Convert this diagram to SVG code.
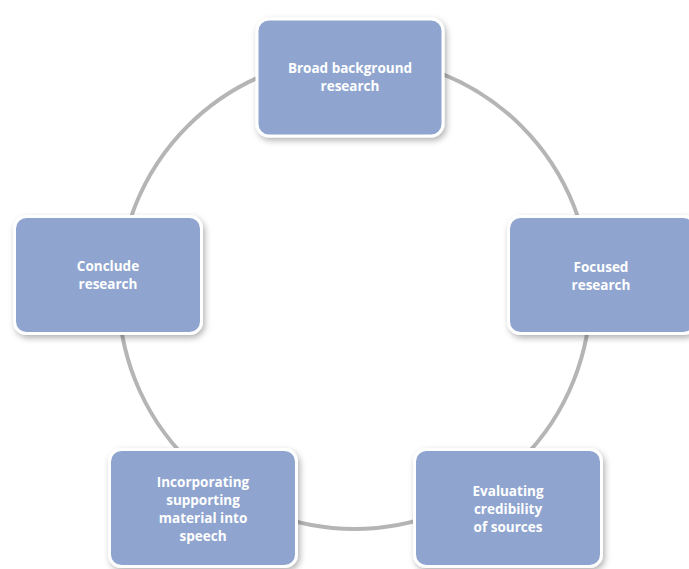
<svg xmlns="http://www.w3.org/2000/svg" width="689" height="569" viewBox="0 0 689 569">
<defs>
<filter id="sh" x="-10%" y="-10%" width="125%" height="130%">
<feDropShadow dx="2" dy="3" stdDeviation="3" flood-color="#000" flood-opacity="0.3"/>
</filter>
<style>
.box{fill:#8FA5CF;stroke:#FFFFFF;stroke-width:3;filter:url(#sh)}
.t{font-family:"Open Sans","Liberation Sans",sans-serif;font-weight:700;font-size:13.5px;fill:#FFFFFF;text-anchor:middle}
.ring{fill:none;stroke:#B5B5B5;stroke-width:4}
</style>
</defs>
<rect width="689" height="569" fill="#FFFFFF"/>
<g id="connectors">
<circle class="ring" cx="354.5" cy="293" r="236"/>
</g>
<g id="node-broad">
<rect class="box" x="257" y="19" width="186" height="117" rx="12"/>
<text class="t" x="350" y="73">Broad background</text>
<text class="t" x="350" y="91">research</text>
</g>
<g id="node-focused">
<rect class="box" x="508.5" y="216.5" width="187" height="117" rx="12"/>
<text class="t" x="601" y="272">Focused</text>
<text class="t" x="601" y="290">research</text>
</g>
<g id="node-evaluating">
<rect class="box" x="414.5" y="449.5" width="187" height="117" rx="12"/>
<text class="t" x="508" y="496">Evaluating</text>
<text class="t" x="508" y="514">credibility</text>
<text class="t" x="508" y="532">of sources</text>
</g>
<g id="node-incorporating">
<rect class="box" x="109.5" y="449.5" width="187" height="117" rx="12"/>
<text class="t" x="203" y="487">Incorporating</text>
<text class="t" x="203" y="505">supporting</text>
<text class="t" x="203" y="523">material into</text>
<text class="t" x="203" y="541">speech</text>
</g>
<g id="node-conclude">
<rect class="box" x="14.5" y="216.5" width="187" height="117" rx="12"/>
<text class="t" x="108" y="271">Conclude</text>
<text class="t" x="108" y="289">research</text>
</g>
</svg>
